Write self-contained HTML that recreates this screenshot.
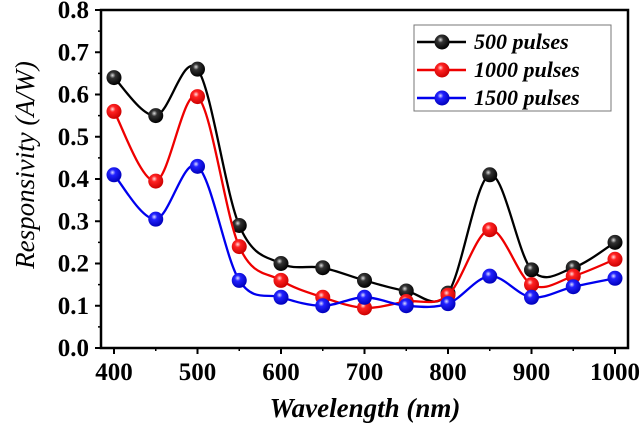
<!DOCTYPE html>
<html><head><meta charset="utf-8"><style>
html,body{margin:0;padding:0;background:#fff;}
svg{display:block;font-family:"Liberation Serif",serif;font-weight:bold;}
</style></head><body>
<svg id="c" width="644" height="424" viewBox="0 0 644 424" xmlns="http://www.w3.org/2000/svg">
<defs>
<radialGradient id="gk" cx="0.4" cy="0.35" r="0.65"><stop offset="0" stop-color="#ddd"/><stop offset="0.3" stop-color="#333"/><stop offset="1" stop-color="#000"/></radialGradient>
<radialGradient id="gr" cx="0.4" cy="0.35" r="0.65"><stop offset="0" stop-color="#fdd"/><stop offset="0.3" stop-color="#f22"/><stop offset="1" stop-color="#c00"/></radialGradient>
<radialGradient id="gb" cx="0.4" cy="0.35" r="0.65"><stop offset="0" stop-color="#ddf"/><stop offset="0.3" stop-color="#22f"/><stop offset="1" stop-color="#00b"/></radialGradient>
</defs>
<g id="plot"></g>
<text x="365" y="417" text-anchor="middle" font-size="27" font-style="italic">Wavelength (nm)</text>
<text transform="translate(34,165) rotate(-90)" text-anchor="middle" font-size="27" font-style="italic" font-weight="normal">Responsivity (A/W)</text>
</svg>
<script>
const wavelengths=[400,450,500,550,600,650,700,750,800,850,900,950,1000];
const s500=[0.64,0.55,0.66,0.29,0.20,0.19,0.16,0.135,0.13,0.41,0.185,0.19,0.25];
const s1000=[0.56,0.395,0.595,0.24,0.16,0.12,0.095,0.11,0.125,0.28,0.15,0.17,0.21];
const s1500=[0.41,0.305,0.43,0.16,0.12,0.10,0.12,0.10,0.105,0.17,0.12,0.145,0.165];
const seriesNames=["500 pulses","1000 pulses","1500 pulses"];
const xTicks=[400,500,600,700,800,900,1000];
const yTicks=[0,0.1,0.2,0.3,0.4,0.5,0.6,0.7,0.8];
const L=101,R=628,T=10,B=348;
const X=v=>114+(v-400)*(615-114)/600;
const Y=v=>B-v*(B-T)/0.8;
const NS="http://www.w3.org/2000/svg";
const g=document.getElementById('plot');
function mk(t,a,p){const e=document.createElementNS(NS,t);for(const k in a)e.setAttribute(k,a[k]);(p||g).appendChild(e);return e;}
const frame=mk('rect',{x:L,y:T,width:R-L,height:B-T,fill:'none',stroke:'#000','stroke-width':2.5});


yTicks.forEach((v,i)=>{
  mk('line',{x1:L,x2:L-6,y1:Y(v),y2:Y(v),stroke:'#000','stroke-width':2});
  if(i<yTicks.length-1) mk('line',{x1:L,x2:L-3,y1:Y(v+0.05),y2:Y(v+0.05),stroke:'#000','stroke-width':1.5});
  const t=mk('text',{x:L-12,y:Y(v)+8,'text-anchor':'end','font-size':25});
  t.textContent=v.toFixed(1);
  
  
});
xTicks.forEach((v,i)=>{
  mk('line',{x1:X(v),x2:X(v),y1:B,y2:B+6,stroke:'#000','stroke-width':2});
  if(i<xTicks.length-1) mk('line',{x1:X(v+50),x2:X(v+50),y1:B,y2:B+3,stroke:'#000','stroke-width':1.5});
  const t=mk('text',{x:X(v),y:B+32,'text-anchor':'middle','font-size':25});
  t.textContent=v;
  
  
});
function curve(vals){
  const p=vals.map((v,i)=>[X(wavelengths[i]),Y(v)]);
  let d='M'+p[0][0]+','+p[0][1];
  for(let i=0;i<p.length-1;i++){
    const p0=p[Math.max(0,i-1)],p1=p[i],p2=p[i+1],p3=p[Math.min(p.length-1,i+2)];
    const c1=[p1[0]+(p2[0]-p0[0])/6,p1[1]+(p2[1]-p0[1])/6];
    const c2=[p2[0]-(p3[0]-p1[0])/6,p2[1]-(p3[1]-p1[1])/6];
    d+=' C'+c1+' '+c2+' '+p2;
  }
  return d;
}
const all=[[s500,'#000','url(#gk)','series-500-pulses'],[s1000,'#e00','url(#gr)','series-1000-pulses'],[s1500,'#00e','url(#gb)','series-1500-pulses']];
all.forEach(([vals,col,grad,name])=>{
  const sg=mk('g',{});
  
  
  mk('path',{d:curve(vals),fill:'none',stroke:col,'stroke-width':2.3},sg);
  vals.forEach((v,i)=>{
    const c=mk('circle',{cx:X(wavelengths[i]),cy:Y(v),r:7.5,fill:grad},sg);
    
    
  });
});
const lg=mk('g',{});


mk('rect',{x:414,y:25,width:197,height:86,fill:'#fff',stroke:'#777','stroke-width':1},lg);
all.forEach(([vals,col,grad,name],i)=>{
  const y=42+i*28;
  const e=mk('g',{},lg);
  
  
  mk('line',{x1:417,x2:466,y1:y,y2:y,stroke:col,'stroke-width':2.5},e);
  mk('circle',{cx:442,cy:y,r:7.5,fill:grad},e);
  const t=mk('text',{x:474,y:y+7,'font-size':22,'font-style':'italic'},e);
  t.textContent=seriesNames[i];
});
</script>
</body></html>
